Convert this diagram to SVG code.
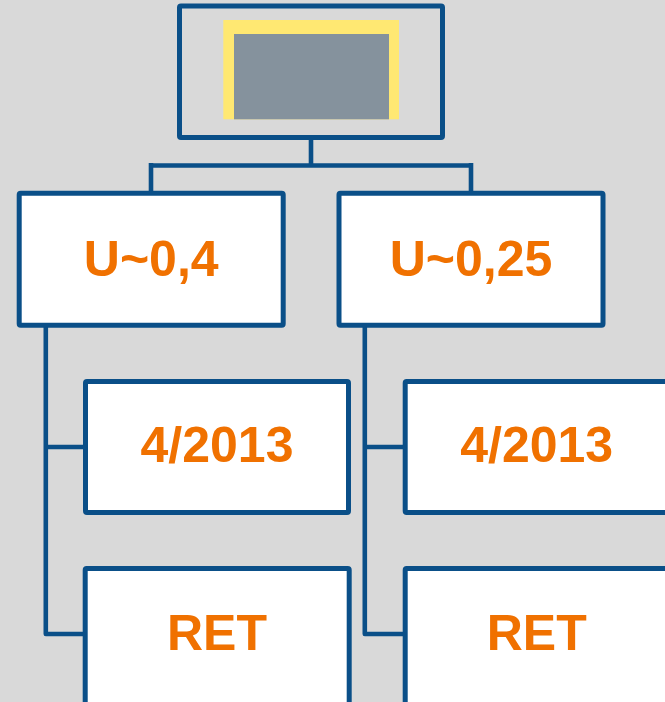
<svg xmlns="http://www.w3.org/2000/svg" width="665" height="702" viewBox="0 0 665 702">
  <style>
    .box { fill: #FFFFFF; stroke: #0A4F88; stroke-width: 5; stroke-linejoin: round; }
    .frame { fill: none; stroke: #0A4F88; stroke-width: 5; stroke-linejoin: round; }
    .wire { fill: none; stroke: #0A4F88; stroke-width: 4.6; stroke-linejoin: round; }
    .label { font-family: "Liberation Sans", Arial, sans-serif; font-weight: bold; font-size: 50px; fill: #F07100; text-anchor: middle; }
  </style>
  <rect width="665" height="702" fill="#D9D9D9"/>

  <!-- connectors -->
  <g id="connectors">
    <path class="wire" d="M311 137 V165.5 M151 165.5 H471 M151 163 V193 M471 163 V193"/>
    <path class="wire" d="M45.8 325 V634 H85.5 M45.8 447 H85.5"/>
    <path class="wire" d="M364.8 325 V634 H405 M364.8 447 H405"/>
  </g>

  <!-- root node with picture placeholder -->
  <g id="root">
    <rect class="frame" x="179.5" y="6" width="263" height="131.5" rx="1.5"/>
    <rect x="223.3" y="20" width="175.7" height="99.3" fill="#FFE872"/>
    <rect x="234" y="34" width="155" height="85.3" fill="#85929D"/>
  </g>

  <g id="u04">
    <rect class="box" x="19.2" y="193.2" width="264" height="132" rx="1.5"/>
    <text class="label" x="151.2" y="276">U~0,4</text>
  </g>
  <g id="u025">
    <rect class="box" x="339" y="193.2" width="264" height="132" rx="1.5"/>
    <text class="label" x="471" y="276">U~0,25</text>
  </g>

  <g id="date-left">
    <rect class="box" x="85.5" y="381.5" width="263" height="131" rx="1.5"/>
    <text class="label" x="217" y="461.7">4/2013</text>
  </g>
  <g id="date-right">
    <rect class="box" x="405.2" y="381.5" width="263" height="131" rx="1.5"/>
    <text class="label" x="536.7" y="461.7">4/2013</text>
  </g>

  <g id="ret-left">
    <rect class="box" x="85.2" y="568.5" width="264" height="140" rx="1.5"/>
    <text class="label" x="217" y="650">RET</text>
  </g>
  <g id="ret-right">
    <rect class="box" x="405.2" y="568.5" width="264" height="140" rx="1.5"/>
    <text class="label" x="536.7" y="650">RET</text>
  </g>
</svg>
